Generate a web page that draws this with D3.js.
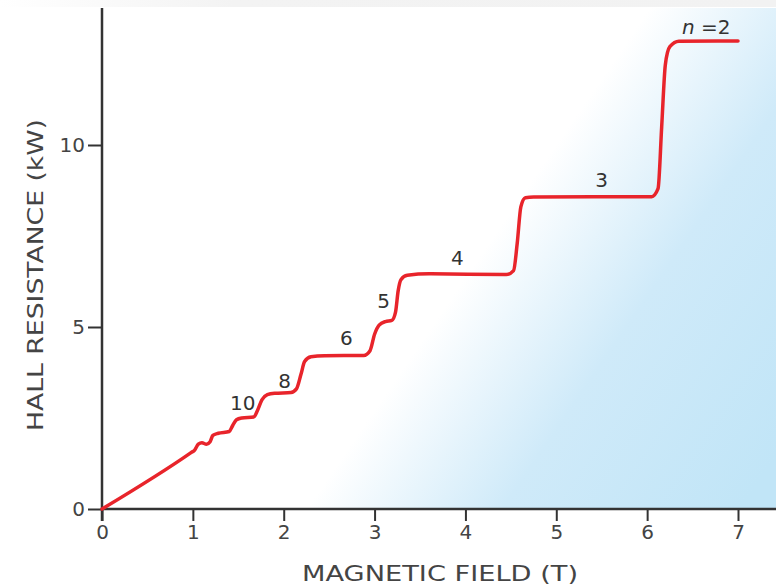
<!DOCTYPE html>
<html>
<head>
<meta charset="utf-8">
<script src="https://cdn.jsdelivr.net/npm/d3@7"></script>
<style>
  html, body { margin: 0; padding: 0; background: #fff; }
  svg { display: block; font-family: "DejaVu Sans", Verdana, sans-serif; }
</style>
</head>
<body>
<svg id="chart" width="776" height="585"></svg>
<script>
// ---- data ----
const fieldTesla = [0, 0.98, 1.02, 1.06, 1.10, 1.15, 1.19, 1.22, 1.28, 1.40, 1.44, 1.48, 1.54, 1.67, 1.71, 1.76, 1.82, 1.90, 2.08, 2.14, 2.19, 2.23, 2.30, 2.45, 2.88, 2.95, 3.00, 3.05, 3.12, 3.19, 3.23, 3.26, 3.29, 3.36, 3.60, 4.45, 4.53, 4.57, 4.61, 4.66, 4.75, 6.05, 6.12, 6.16, 6.20, 6.25, 6.35, 7.00];
const hallResistance = [0, 1.55, 1.62, 1.78, 1.82, 1.78, 1.85, 2.02, 2.08, 2.13, 2.30, 2.45, 2.50, 2.53, 2.70, 3.00, 3.14, 3.18, 3.20, 3.30, 3.70, 4.05, 4.18, 4.21, 4.22, 4.35, 4.80, 5.05, 5.15, 5.18, 5.40, 6.00, 6.30, 6.42, 6.46, 6.44, 6.55, 7.30, 8.30, 8.55, 8.57, 8.58, 8.80, 10.5, 12.2, 12.70, 12.85, 12.86];
const plateauLabels = ["10", "8", "6", "5", "4", "3", "2"];
const labelField = [1.55, 2.01, 2.69, 3.10, 3.91, 5.50, 6.65];
const labelResistance = [2.91, 3.52, 4.70, 5.71, 6.90, 9.04, 13.25];
const xTicks = [0, 1, 2, 3, 4, 5, 6, 7];
const yTicks = [0, 5, 10];
const xTitle = "MAGNETIC FIELD (T)";
const yTitle = "HALL RESISTANCE (kW)";

// ---- layout ----
const svg = d3.select("#chart");
const W = 776, H = 585;
const x0 = 102, y0 = 509;
const x = d3.scaleLinear().domain([0, 7]).range([x0, 738]);
const y = d3.scaleLinear().domain([0, 10]).range([y0, 145]);
const xMax = x.invert(W), yMax = y.invert(8);

const defs = svg.append("defs");
const bg = defs.append("linearGradient").attr("id", "bg")
  .attr("gradientUnits", "userSpaceOnUse")
  .attr("x1", 385).attr("y1", 395).attr("x2", 680).attr("y2", 597);
bg.append("stop").attr("offset", 0).attr("stop-color", "#ffffff");
bg.append("stop").attr("offset", 0.45).attr("stop-color", "#cfeaf9");
bg.append("stop").attr("offset", 1).attr("stop-color", "#c1e5f7");

const topGrad = defs.append("linearGradient").attr("id", "topband")
  .attr("x1", 0).attr("x2", 1).attr("y1", 0).attr("y2", 0);
topGrad.append("stop").attr("offset", 0).attr("stop-color", "#ffffff");
topGrad.append("stop").attr("offset", 0.3).attr("stop-color", "#f3f3f3");
topGrad.append("stop").attr("offset", 1).attr("stop-color", "#f2f2f2");

svg.append("rect").attr("x", 0).attr("y", 0).attr("width", W).attr("height", 7)
  .attr("fill", "url(#topband)");

// plot background gradient
svg.append("rect")
  .attr("x", x(0)).attr("y", y(yMax))
  .attr("width", x(xMax) - x(0)).attr("height", y(0) - y(yMax))
  .attr("fill", "url(#bg)");

// ---- axes ----
const axisColor = "#333";
const xAxis = svg.append("g").attr("transform", `translate(0,${y0})`)
  .call(d3.axisBottom(x).tickValues(xTicks).tickFormat(d3.format("d"))
    .tickSize(12).tickSizeOuter(0).tickPadding(4));
const yAxis = svg.append("g").attr("transform", `translate(${x0},0)`)
  .call(d3.axisLeft(y).tickValues(yTicks).tickFormat(d3.format("d"))
    .tickSize(14).tickSizeOuter(0).tickPadding(3));

[xAxis, yAxis].forEach(g => {
  g.select(".domain").remove();
  g.selectAll(".tick line").attr("stroke", axisColor).attr("stroke-width", 2);
  g.selectAll(".tick text").attr("fill", "#444").attr("font-size", 20)
    .attr("font-family", "DejaVu Sans, Verdana, sans-serif");
});

// axis lines
svg.append("line").attr("x1", x(0)).attr("x2", x(xMax)).attr("y1", y0).attr("y2", y0)
  .attr("stroke", axisColor).attr("stroke-width", 2.5);
svg.append("line").attr("x1", x0).attr("x2", x0).attr("y1", y(yMax)).attr("y2", y0 + 12)
  .attr("stroke", axisColor).attr("stroke-width", 2.5);

// axis titles
svg.append("text").attr("x", 440).attr("y", 581)
  .attr("text-anchor", "middle").attr("font-size", 22).attr("fill", "#444")
  .attr("textLength", 276).attr("lengthAdjust", "spacingAndGlyphs")
  .text(xTitle);
svg.append("text").attr("transform", `translate(43,275) rotate(-90)`)
  .attr("text-anchor", "middle").attr("font-size", 22).attr("fill", "#444")
  .attr("textLength", 312).attr("lengthAdjust", "spacingAndGlyphs")
  .text(yTitle);

// ---- curve ----
const pts = fieldTesla.map((b, i) => [b, hallResistance[i]]);
const line = d3.line().x(d => x(d[0])).y(d => y(d[1])).curve(d3.curveMonotoneX);
svg.append("path").datum(pts).attr("d", line)
  .attr("fill", "none").attr("stroke", "#e8242b").attr("stroke-width", 3.5)
  .attr("stroke-linejoin", "round").attr("stroke-linecap", "round");

// ---- plateau labels ----
plateauLabels.forEach((lab, i) => {
  const t = svg.append("text")
    .attr("x", x(labelField[i])).attr("y", y(labelResistance[i]))
    .attr("text-anchor", "middle").attr("dominant-baseline", "central")
    .attr("font-size", 20).attr("fill", "#333");
  if (lab === "2") {
    t.append("tspan").attr("font-style", "italic").text("n");
    t.append("tspan").text(" =2");
  } else {
    t.text(lab);
  }
});
</script>
</body>
</html>
